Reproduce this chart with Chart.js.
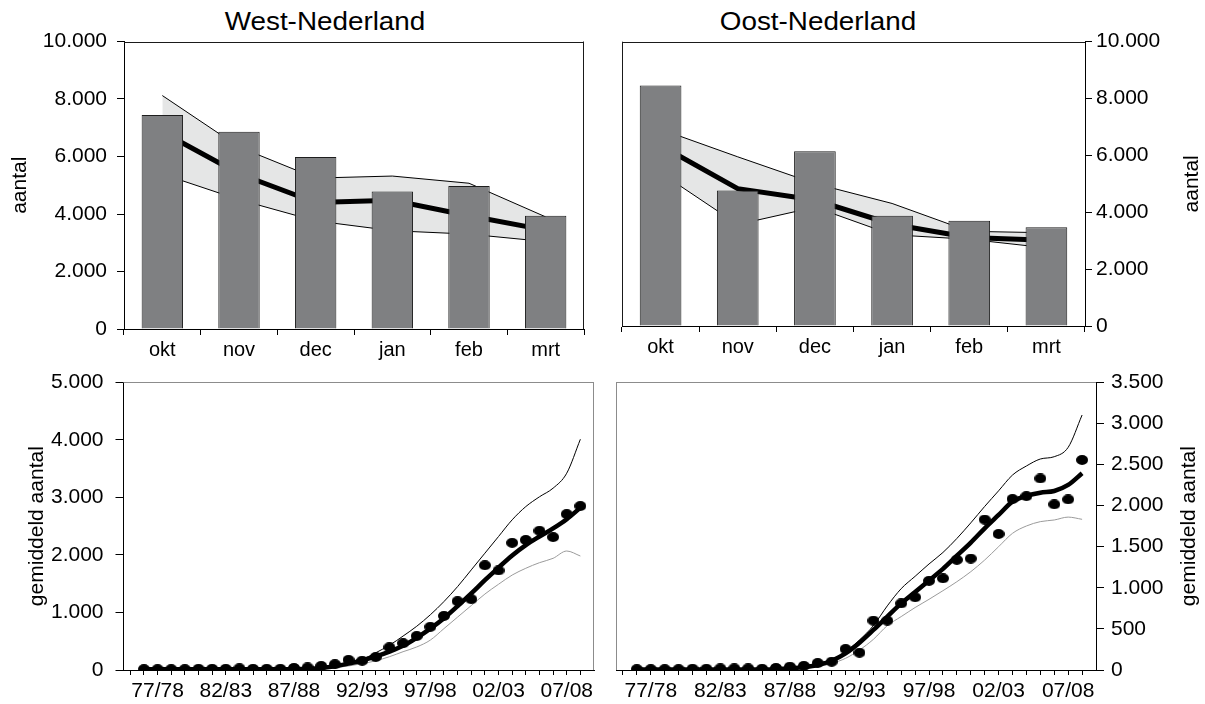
<!DOCTYPE html>
<html>
<head>
<meta charset="utf-8">
<script src="https://cdn.jsdelivr.net/npm/chart.js@4.4.1/dist/chart.umd.min.js"></script>
<style>
  body { margin: 0; background: #fff; width: 1205px; height: 704px; position: relative; overflow: hidden;
         font-family: "Liberation Sans", Arial, sans-serif; }
  .panel { position: absolute; }
  .title { position: absolute; top: 8px; font-size: 26px; line-height: 26px; color: #000;
           transform: translateX(-50%) scaleX(1.07); white-space: nowrap; }
</style>
</head>
<body>
<div class="title" style="left:325px">West-Nederland</div>
<div class="title" style="left:818px">Oost-Nederland</div>
<div class="panel" style="left:0;top:0;width:600px;height:360px"><canvas id="westMonth"></canvas></div>
<div class="panel" style="left:600px;top:0;width:605px;height:360px"><canvas id="oostMonth"></canvas></div>
<div class="panel" style="left:0;top:352px;width:600px;height:352px"><canvas id="westSeason"></canvas></div>
<div class="panel" style="left:600px;top:352px;width:605px;height:352px"><canvas id="oostSeason"></canvas></div>
<script>
// monthly counts with mean and band
const months = ['okt', 'nov', 'dec', 'jan', 'feb', 'mrt'];

const westMonthCount = [7440, 6860, 5980, 4780, 4970, 3940];
const westMonthMean  = [6850, 5400, 4400, 4480, 3940, 3440];
const westMonthHigh  = [8120, 6330, 5250, 5320, 5070, 3900];
const westMonthLow   = [5390, 4500, 3760, 3420, 3300, 3040];

const oostMonthCount = [8460, 4770, 6150, 3880, 3700, 3470];
const oostMonthMean  = [6350, 4830, 4430, 3580, 3110, 3020];
const oostMonthHigh  = [6920, 5950, 5010, 4310, 3330, 3280];
const oostMonthLow   = [5390, 3570, 4180, 3210, 3050, 2750];

// seasonal averages, trend and upper/lower lines
const seasons = ['76/77', '77/78', '78/79', '79/80', '80/81', '81/82', '82/83', '83/84', '84/85',
  '85/86', '86/87', '87/88', '88/89', '89/90', '90/91', '91/92', '92/93', '93/94', '94/95',
  '95/96', '96/97', '97/98', '98/99', '99/00', '00/01', '01/02', '02/03', '03/04', '04/05',
  '05/06', '06/07', '07/08', '08/09'];

const westCount = [15, 15, 15, 15, 20, 20, 20, 30, 20, 20, 20, 35, 45, 70, 100, 175, 160,
  225, 395, 465, 590, 750, 940, 1195, 1230, 1820, 1730, 2210, 2260, 2420, 2310, 2710, 2850];
const westTrend = [12, 12, 12, 12, 12, 12, 12, 12, 12, 12, 12, 15, 20, 35, 65, 110, 165,
  235, 320, 420, 560, 720, 900, 1110, 1330, 1560, 1780, 1990, 2170, 2320, 2460, 2620, 2820];
const westHigh = [0, 0, 0, 0, 0, 0, 0, 0, 0, 0, 0, 10, 20, 40, 70, 120, 186,
  300, 430, 590, 760, 960, 1190, 1450, 1740, 2030, 2320, 2610, 2840, 3010, 3160, 3420, 4010];
const westLow = [0, 0, 0, 0, 0, 0, 0, 0, 0, 0, 0, 0, 10, 20, 40, 70, 110,
  160, 231, 318, 400, 520, 720, 920, 1120, 1320, 1490, 1650, 1768, 1865, 1941, 2068, 1981];

const oostCount = [10, 10, 10, 10, 15, 15, 20, 20, 20, 15, 25, 40, 50, 85, 100, 255, 210,
  600, 600, 810, 885, 1085, 1115, 1340, 1355, 1830, 1655, 2080, 2115, 2330, 2015, 2075, 2555];
const oostTrend = [5, 5, 5, 5, 5, 5, 5, 5, 5, 5, 10, 20, 35, 61, 113, 203, 332,
  487, 650, 810, 950, 1090, 1230, 1390, 1550, 1724, 1886, 2048, 2117, 2157, 2178, 2251, 2393];
const oostHigh = [0, 0, 0, 0, 0, 0, 0, 0, 0, 0, 0, 20, 40, 70, 125, 223, 365,
  540, 780, 990, 1140, 1290, 1430, 1600, 1790, 1990, 2180, 2372, 2482, 2567, 2595, 2709, 3102];
const oostLow = [0, 0, 0, 0, 0, 0, 0, 0, 0, 0, 0, 10, 20, 40, 80, 142, 243,
  373, 540, 650, 760, 860, 965, 1074, 1196, 1338, 1500, 1663, 1752, 1805, 1825, 1860, 1833];

const FONT = '"Liberation Sans", Arial, sans-serif';
Chart.defaults.font.family = FONT;
Chart.defaults.color = '#000';
Chart.defaults.animation = false;
Chart.defaults.plugins.legend.display = false;
Chart.defaults.plugins.tooltip.enabled = false;

// 10000 -> "10.000"
const dutch = v => String(v).replace(/\B(?=(\d{3})+(?!\d))/g, '.');

// top edge plus the side of the plot that has no axis
const frame = {
  id: 'frame',
  afterDraw(chart, args, opts) {
    const { ctx, chartArea: a } = chart;
    const sx = opts.side === 'left' ? Math.round(a.left) + 0.5 : Math.round(a.right) - 0.5;
    const ty = Math.round(a.top) + 0.5;
    ctx.save();
    ctx.strokeStyle = opts.color;
    ctx.lineWidth = 1;
    ctx.beginPath();
    ctx.moveTo(a.left, ty);
    ctx.lineTo(a.right, ty);
    ctx.moveTo(sx, a.top);
    ctx.lineTo(sx, a.bottom);
    ctx.stroke();
    ctx.restore();
  }
};

// axis title for a right-hand axis, read bottom to top like the left one
const rightTitle = {
  id: 'rightTitle',
  afterDraw(chart, args, opts) {
    if (!opts.text) return;
    const { ctx, chartArea: a, width } = chart;
    ctx.save();
    ctx.translate(width - opts.inset, (a.top + a.bottom) / 2);
    ctx.rotate(-Math.PI / 2);
    ctx.font = '21px ' + FONT;
    ctx.fillStyle = '#000';
    ctx.textAlign = 'center';
    ctx.textBaseline = 'middle';
    ctx.fillText(opts.text, 0, 0);
    ctx.restore();
  }
};

function yAxis(o) {
  return {
    position: o.side,
    min: 0,
    max: o.max,
    afterFit: s => { s.width = o.width; },
    border: { color: '#000' },
    grid: { drawOnChartArea: false, color: '#000', tickLength: o.tick },
    ticks: { stepSize: o.step, padding: o.pad, font: { size: 21 }, callback: v => dutch(v) },
    title: {
      display: o.side === 'left',
      text: o.title,
      font: { size: 21 },
      padding: { top: o.titlePad, bottom: 0 }
    }
  };
}

function monthChart(id, d) {
  return new Chart(document.getElementById(id), {
    type: 'bar',
    data: {
      labels: months,
      datasets: [
        { data: d.count, backgroundColor: '#7f8082', borderColor: '#1e1e1e', borderWidth: 1,
          barPercentage: 0.54, categoryPercentage: 1, order: 0 },
        { type: 'line', data: d.mean, borderColor: '#000', borderWidth: 5, pointRadius: 0, order: 1 },
        { type: 'line', data: d.high, borderColor: '#000', borderWidth: 1, pointRadius: 0, order: 2 },
        { type: 'line', data: d.low, borderColor: '#000', borderWidth: 1, pointRadius: 0,
          fill: '-1', backgroundColor: '#e5e6e6', order: 3 }
      ]
    },
    options: {
      responsive: true,
      maintainAspectRatio: false,
      layout: { padding: d.padding },
      plugins: {
        frame: { color: '#1a1a1a', side: d.side === 'left' ? 'right' : 'left' },
        rightTitle: { text: d.side === 'right' ? 'aantal' : '', inset: d.titleInset }
      },
      scales: {
        x: {
          afterFit: s => { s.height = d.xHeight; },
          border: { color: '#000' },
          grid: { drawOnChartArea: false, color: '#000', tickLength: 6, offset: true },
          ticks: { padding: 3, font: { size: 20 } }
        },
        y: yAxis({ side: d.side, max: 10000, step: 2000, width: d.yWidth, tick: 7,
                   pad: d.labelPad, title: 'aantal', titlePad: d.titlePad })
      }
    },
    plugins: [frame, rightTitle]
  });
}

// small filled ellipse used as the marker for the yearly averages
const dot = document.createElement('canvas');
dot.width = 12;
dot.height = 10;
(function () {
  const c = dot.getContext('2d');
  c.fillStyle = '#000';
  c.beginPath();
  c.ellipse(6, 5, 6, 5, 0, 0, Math.PI * 2);
  c.fill();
})();

const points = values => values.map((v, i) => ({ x: i, y: v }));
const xTicks = [-1].concat(seasons.map((s, i) => i));

function seasonChart(id, d) {
  const smooth = { pointRadius: 0, cubicInterpolationMode: 'monotone' };
  return new Chart(document.getElementById(id), {
    type: 'line',
    data: {
      datasets: [
        { data: points(d.count), showLine: false, pointStyle: dot, pointRadius: 5, order: 0 },
        Object.assign({ data: points(d.trend), borderColor: '#000', borderWidth: 4.5, order: 1 }, smooth),
        Object.assign({ data: points(d.high), borderColor: '#000', borderWidth: 1, order: 2 }, smooth),
        Object.assign({ data: points(d.low), borderColor: '#9b9b9b', borderWidth: 1, order: 3 }, smooth)
      ]
    },
    options: {
      responsive: true,
      maintainAspectRatio: false,
      layout: { padding: d.padding },
      plugins: {
        frame: { color: '#8c8c8c', side: d.side === 'left' ? 'right' : 'left' },
        rightTitle: { text: d.side === 'right' ? 'gemiddeld aantal' : '', inset: d.titleInset }
      },
      scales: {
        x: {
          type: 'linear',
          min: -1.5,
          max: 33,
          afterBuildTicks: axis => { axis.ticks = xTicks.map(v => ({ value: v })); },
          afterFit: s => { s.height = 34; },
          border: { color: '#000' },
          grid: { drawOnChartArea: false, color: '#000', tickLength: 5 },
          ticks: {
            autoSkip: false, maxRotation: 0, minRotation: 0, padding: 4, font: { size: 21 },
            callback: v => (v > 0 && (v - 1) % 5 === 0 ? seasons[v] : '')
          }
        },
        y: yAxis({ side: d.side, max: d.max, step: d.step, width: d.yWidth, tick: 8,
                   pad: d.labelPad, title: 'gemiddeld aantal', titlePad: d.titlePad })
      }
    },
    plugins: [frame, rightTitle]
  });
}

monthChart('westMonth', {
  count: westMonthCount, mean: westMonthMean, high: westMonthHigh, low: westMonthLow,
  side: 'left', yWidth: 124, xHeight: 31, labelPad: 10, titlePad: 8,
  padding: { top: 41.5, right: 16, bottom: 0, left: 0 }
});

monthChart('oostMonth', {
  count: oostMonthCount, mean: oostMonthMean, high: oostMonthHigh, low: oostMonthLow,
  side: 'right', yWidth: 120, xHeight: 34, labelPad: 4, titleInset: 13,
  padding: { top: 41.7, right: 0, bottom: 0, left: 22 }
});

seasonChart('westSeason', {
  count: westCount, trend: westTrend, high: westHigh, low: westLow,
  side: 'left', max: 5000, step: 1000, yWidth: 123.5, labelPad: 12, titlePad: 25,
  padding: { top: 30.3, right: 4.5, bottom: 0, left: 0 }
});

seasonChart('oostSeason', {
  count: oostCount, trend: oostTrend, high: oostHigh, low: oostLow,
  side: 'right', max: 3500, step: 500, yWidth: 109, labelPad: 7, titleInset: 16,
  padding: { top: 30.3, right: 0, bottom: 0, left: 16 }
});
</script>
</body>
</html>
